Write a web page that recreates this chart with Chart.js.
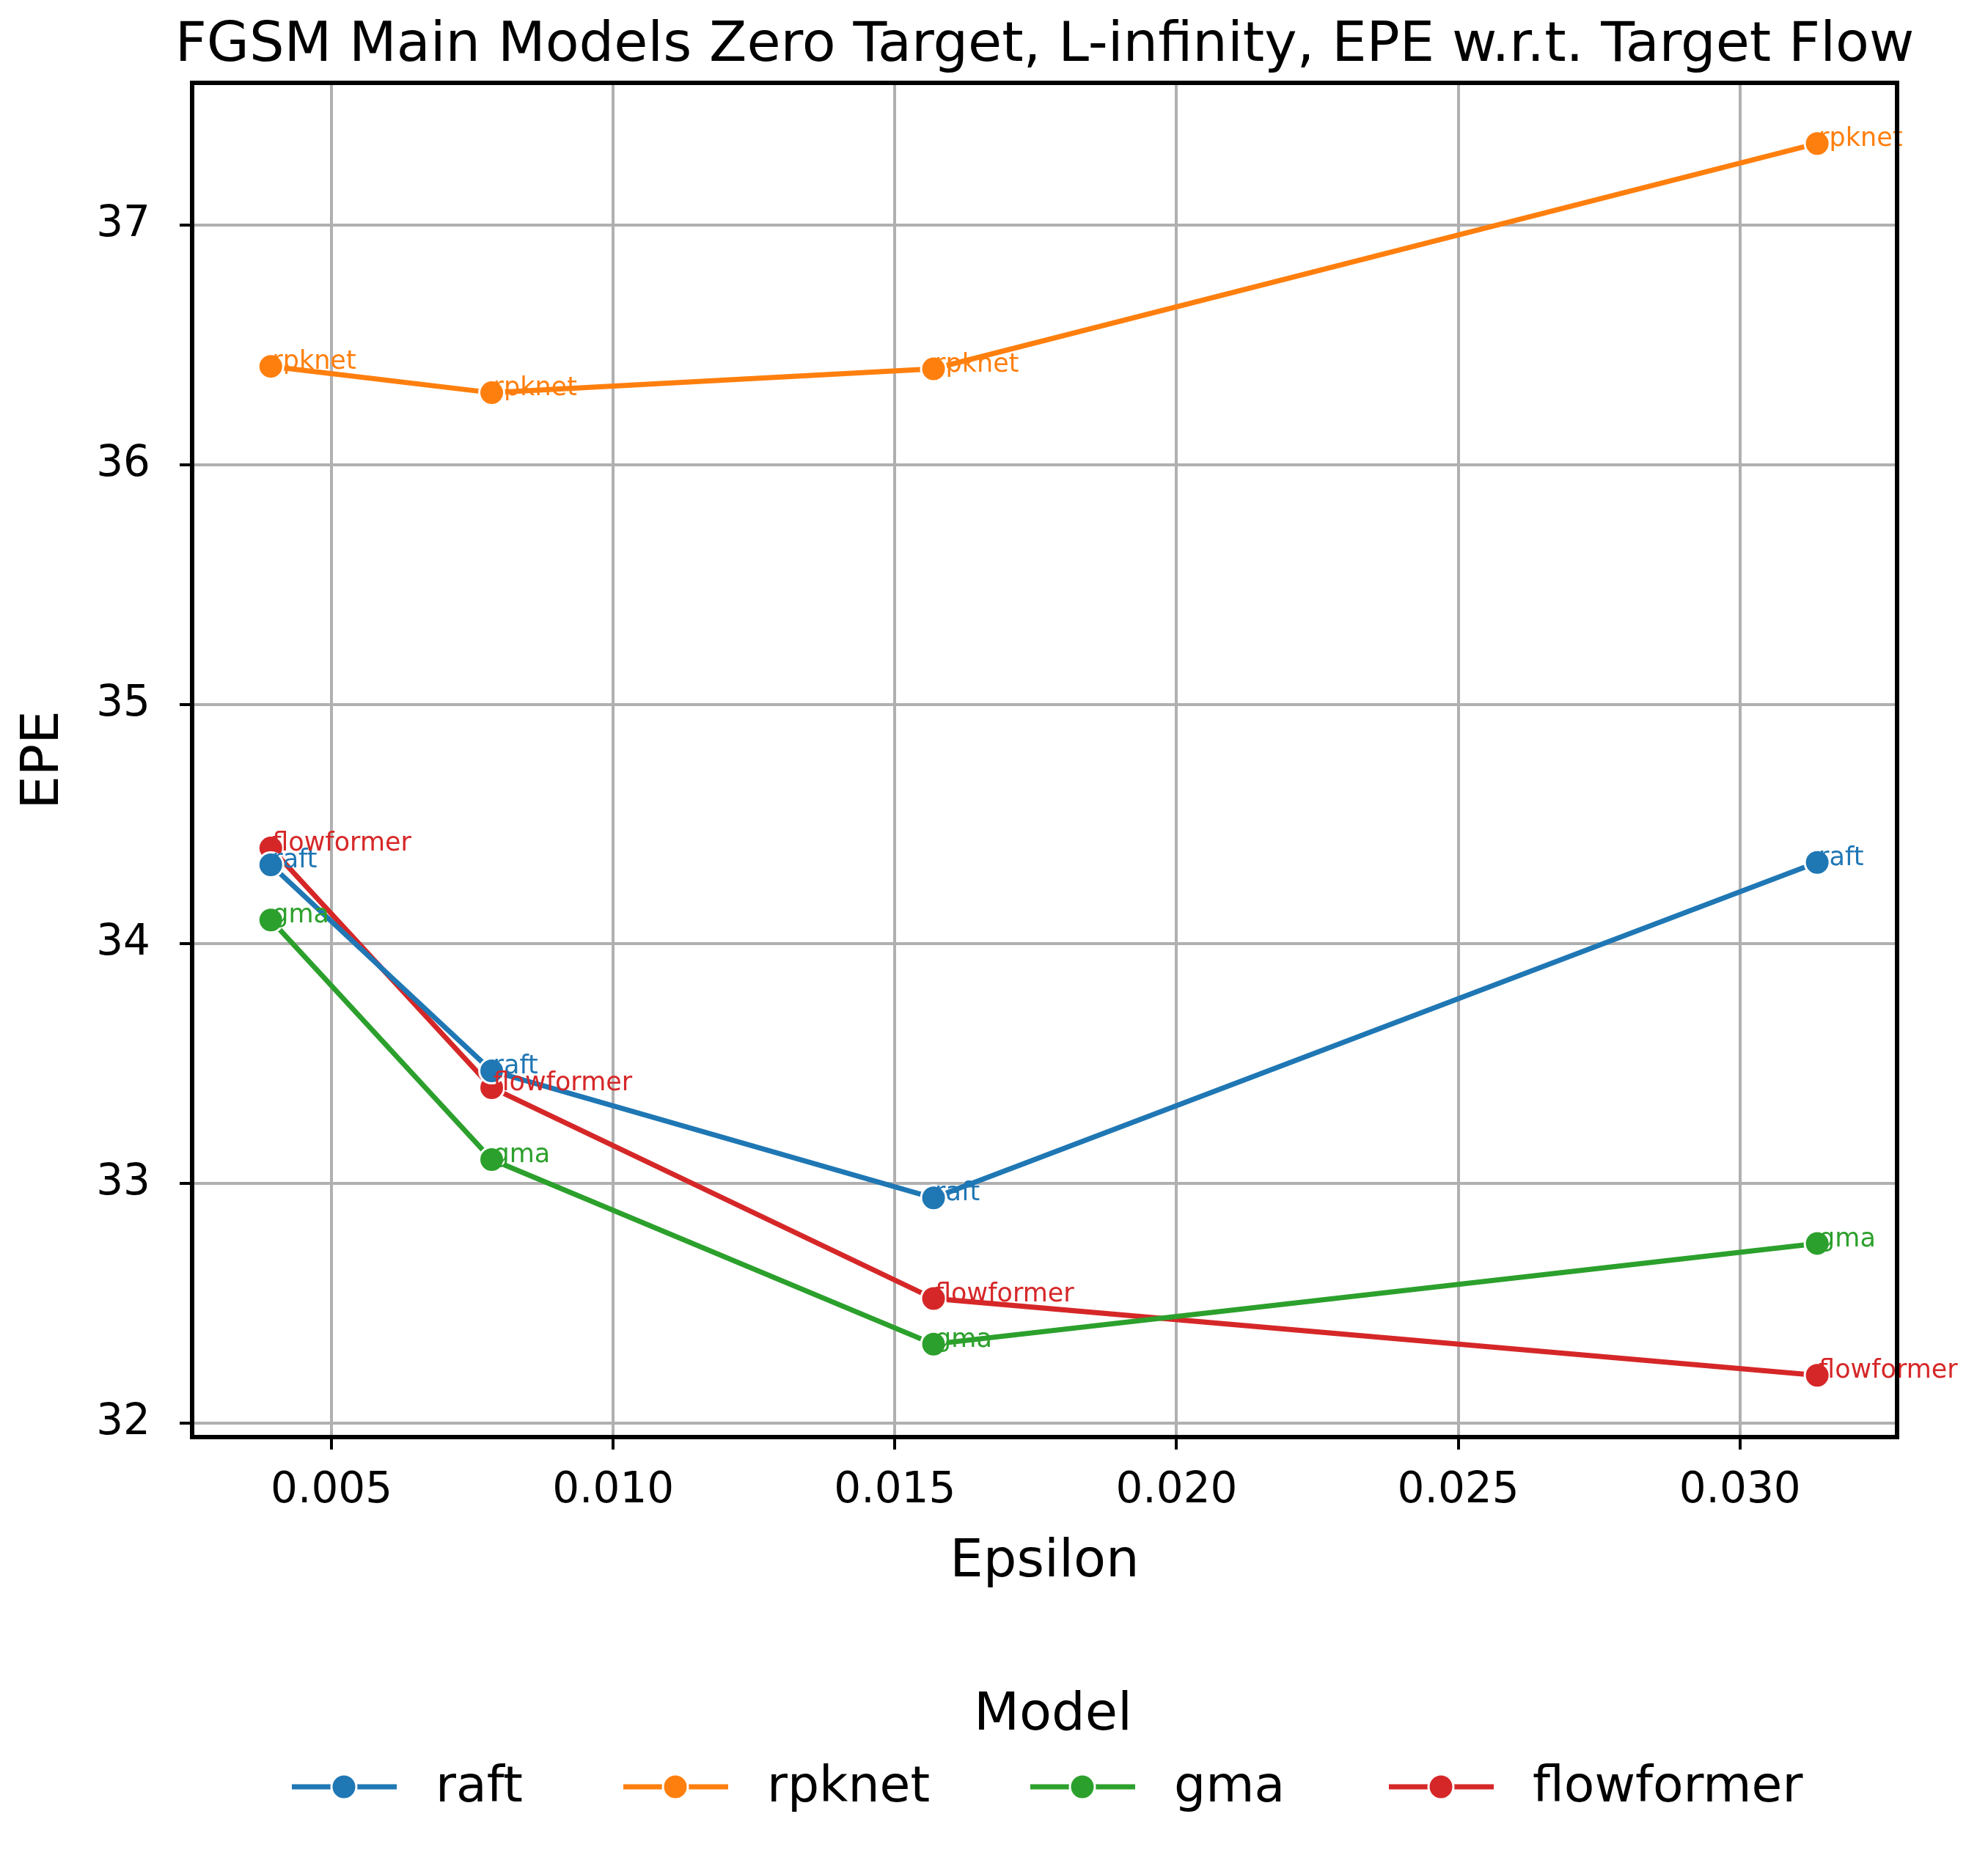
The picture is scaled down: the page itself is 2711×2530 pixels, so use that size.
<!DOCTYPE html>
<html><head><meta charset="utf-8">
<script src="https://cdn.jsdelivr.net/npm/chart.js@4"></script>
<style>html,body{margin:0;padding:0;background:#fff}#c{display:block}</style>
</head><body>
<div style="width:2711px;height:2530px"><canvas id="c" width="2711" height="2530"></canvas></div>
<script>
const epsilons = [1/255, 2/255, 4/255, 8/255];
const models = ["raft", "rpknet", "gma", "flowformer"];
const colors = ["#1f77b4", "#ff7f0e", "#2ca02c", "#d62728"];
const raft = [34.33, 33.47, 32.94, 34.34];
const rpknet = [36.41, 36.30, 36.40, 37.34];
const gma = [34.10, 33.10, 32.33, 32.75];
const flowformer = [34.40, 33.40, 32.52, 32.20];
const xTicks = [0.005, 0.010, 0.015, 0.020, 0.025, 0.030];
const yTicks = [32, 33, 34, 35, 36, 37];
const seriesValues = [raft, rpknet, gma, flowformer];
const F = "'DejaVu Sans', sans-serif";

const datasets = models.map((m, i) => ({
  label: m,
  data: epsilons.map((x, j) => ({x, y: seriesValues[i][j]})),
  borderColor: colors[i], backgroundColor: colors[i],
  borderWidth: 7, pointRadius: 17, pointHoverRadius: 17,
  pointBorderColor: "#fff", pointBorderWidth: 3, tension: 0
}));

const deco = {
  id: "deco",
  afterDatasetsDraw(chart) {
    const ctx = chart.ctx, a = chart.chartArea;
    const xs = chart.scales.x, ys = chart.scales.y;
    ctx.save();
    ctx.font = "35px " + F; ctx.textAlign = "left"; ctx.textBaseline = "bottom";
    datasets.forEach((d, i) => {
      ctx.fillStyle = colors[i];
      d.data.forEach(p => ctx.fillText(models[i], xs.getPixelForValue(p.x) + 2, ys.getPixelForValue(p.y) + 12));
    });
    ctx.strokeStyle = "#000"; ctx.lineWidth = 6;
    ctx.strokeRect(a.left, a.top, a.right - a.left, a.bottom - a.top);
    ctx.fillStyle = "#000"; ctx.textAlign = "center"; ctx.textBaseline = "middle";
    ctx.font = "75px " + F;
    ctx.fillText("FGSM Main Models Zero Target, L-infinity, EPE w.r.t. Target Flow", (a.left + a.right) / 2, 64);
    ctx.font = "72px " + F;
    ctx.fillText("Epsilon", (a.left + a.right) / 2, 2131);
    ctx.save(); ctx.translate(60, (a.top + a.bottom) / 2); ctx.rotate(-Math.PI / 2);
    ctx.fillText("EPE", 0, 0); ctx.restore();
    ctx.fillText("Model", 1436, 2340);
    const lx = [398, 850, 1405, 1894];
    ctx.font = "68px " + F; ctx.textAlign = "left";
    models.forEach((m, i) => {
      const y = 2437;
      ctx.strokeStyle = colors[i]; ctx.lineWidth = 7;
      ctx.beginPath(); ctx.moveTo(lx[i], y); ctx.lineTo(lx[i] + 143, y); ctx.stroke();
      ctx.fillStyle = colors[i]; ctx.beginPath(); ctx.arc(lx[i] + 71, y, 17, 0, 2 * Math.PI); ctx.fill();
      ctx.strokeStyle = "#fff"; ctx.lineWidth = 3; ctx.stroke();
      ctx.fillStyle = "#000"; ctx.fillText(m, lx[i] + 196, y + 2);
    });
    ctx.restore();
  }
};

new Chart(document.getElementById("c"), {
  type: "line",
  data: {datasets},
  plugins: [deco],
  options: {
    responsive: false, animation: false, devicePixelRatio: 1,
    layout: {padding: {left: 0, right: 124, top: 113, bottom: 0}},
    plugins: {legend: {display: false}, title: {display: false}, tooltip: {enabled: false}},
    scales: {
      x: {
        type: "linear", min: 0.002525, max: 0.03279,
        afterBuildTicks: s => { s.ticks = xTicks.map(v => ({value: v})); },
        afterFit: s => { s.height = 570; },
        grid: {color: "#b0b0b0", lineWidth: 4, tickColor: "#000", tickLength: 17, tickWidth: 4},
        border: {display: false},
        ticks: {font: {size: 58, family: F}, color: "#000", padding: 22, maxRotation: 0,
          callback: v => v.toFixed(3)}
      },
      y: {
        min: 31.942, max: 37.593,
        afterBuildTicks: s => { s.ticks = yTicks.map(v => ({value: v})); },
        afterFit: s => { s.width = 262; },
        grid: {color: "#b0b0b0", lineWidth: 4, tickColor: "#000", tickLength: 17, tickWidth: 4},
        border: {display: false},
        ticks: {font: {size: 58, family: F}, color: "#000", padding: 40, callback: v => String(v)}
      }
    }
  }
});
</script>
</body></html>
